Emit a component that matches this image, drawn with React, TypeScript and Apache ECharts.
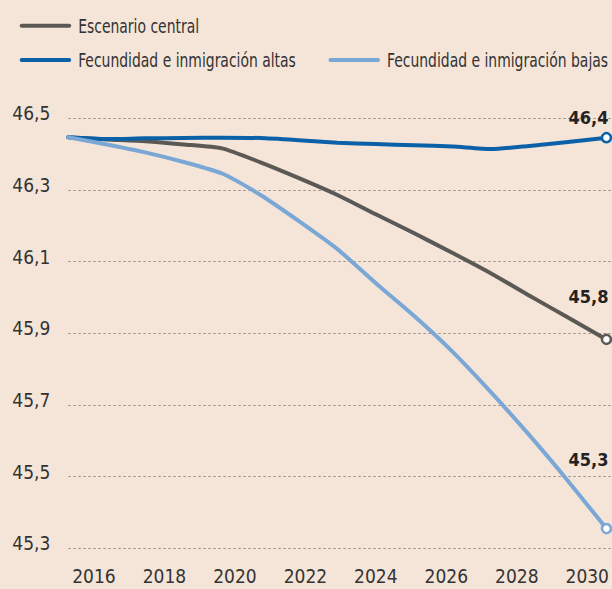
import React, { useEffect, useRef } from "react";
import * as echarts from "echarts";

const FONT = '"DejaVu Sans Condensed", "DejaVu Sans", sans-serif';

const years = [2016, 2017, 2018, 2019, 2020, 2021, 2022, 2023, 2024, 2025, 2026, 2027, 2028, 2029, 2030];
const xTickLabels = [2016, 2018, 2020, 2022, 2024, 2026, 2028, 2030];

const seriesNames = [
  "Escenario central",
  "Fecundidad e inmigración altas",
  "Fecundidad e inmigración bajas",
];

const central = [46.447, 46.441, 46.436, 46.427, 46.416, 46.377, 46.333, 46.286, 46.232, 46.179, 46.124, 46.067, 46.005, 45.944, 45.883];
const altas = [46.447, 46.442, 46.444, 46.445, 46.446, 46.445, 46.439, 46.432, 46.428, 46.425, 46.421, 46.414, 46.423, 46.434, 46.446];
const bajas = [46.447, 46.427, 46.405, 46.378, 46.346, 46.286, 46.213, 46.135, 46.04, 45.948, 45.848, 45.735, 45.615, 45.488, 45.355];

const endLabels = ["45,8", "46,4", "45,3"];

const COLORS = ["#5c5853", "#0b61a7", "#7aa7d6"];
const LABEL_DY = [-43, -20, -69];
const BG = "#f5e5d8";
const TEXT = "#333333";

function makeSeries(idx: number, values: number[]) {
  const color = COLORS[idx];
  const data: any[] = values.map((v, i) => [years[i], v]);
  const last = data.length - 1;
  data[last] = {
    value: data[last],
    symbol: "circle",
    symbolSize: 9,
    itemStyle: { color: "#ffffff", borderColor: color, borderWidth: 2.5 },
    label: {
      show: true,
      formatter: endLabels[idx],
      position: "inside",
      align: "right",
      verticalAlign: "middle",
      offset: [2, LABEL_DY[idx]],
      fontFamily: FONT,
      fontSize: 18,
      fontWeight: "bold",
      color: "#222222",
    },
  };
  return {
    type: "line",
    name: seriesNames[idx],
    xAxisIndex: 0,
    yAxisIndex: 0,
    data,
    symbol: "none",
    smooth: 0.2,
    color,
    itemStyle: { color },
    lineStyle: { width: 4, color, cap: "round", join: "round" },
    emphasis: { disabled: true },
    silent: true,
    clip: false,
    z: 2 + idx,
  };
}

// legend entries drawn as line + horizontally condensed text
function legendEntry(idx: number, x: number, y: number) {
  return {
    type: "group",
    silent: true,
    children: [
      {
        type: "line",
        shape: { x1: x, y1: y, x2: x + 47.5, y2: y },
        style: { stroke: COLORS[idx], lineWidth: 4, lineCap: "round" },
      },
      {
        type: "text",
        x: x + 56.5,
        y,
        scaleX: 0.775,
        style: {
          text: seriesNames[idx],
          x: 0,
          y: 0,
          fontFamily: FONT,
          fontSize: 20,
          fill: TEXT,
          verticalAlign: "middle",
          align: "left",
        },
      },
    ],
  };
}

export default function App() {
  const ref = useRef<HTMLDivElement>(null);

  useEffect(() => {
    if (!ref.current) return;
    const chart = echarts.init(ref.current, null, { renderer: "svg" });
    const option = {
      animation: false,
      backgroundColor: BG,
      textStyle: { fontFamily: FONT },
      graphic: [legendEntry(0, 21.7, 25.7), legendEntry(1, 21.7, 60), legendEntry(2, 330.5, 60)],
      grid: { left: 68.3, right: 0, top: 118.3, bottom: 40.7, containLabel: false },
      xAxis: [
        {
          type: "value",
          position: "top",
          min: 2016,
          max: 2030.138,
          show: false,
        },
        {
          type: "value",
          position: "bottom",
          min: 2015.271,
          max: 2030.695,
          axisLine: { show: false },
          axisTick: { show: false },
          splitLine: { show: false },
          axisLabel: {
            customValues: xTickLabels,
            formatter: (v: number) => String(Math.round(v)),
            fontFamily: FONT,
            fontSize: 19,
            color: TEXT,
            margin: 18,
          },
        },
      ],
      yAxis: {
        type: "value",
        min: 45.3,
        max: 46.5,
        interval: 0.2,
        axisLine: { show: false },
        axisTick: { show: false },
        axisLabel: {
          formatter: (v: number) => v.toFixed(1).replace(".", ","),
          fontFamily: FONT,
          fontSize: 19,
          color: TEXT,
          margin: 18,
          verticalAlign: "bottom",
          lineHeight: 10,
        },
        splitLine: {
          show: true,
          lineStyle: { color: "#9a948f", width: 1.2, type: [2.5, 2.5] },
        },
      },
      series: [makeSeries(0, central), makeSeries(1, altas), makeSeries(2, bajas)],
    };
    chart.setOption(option as any);
    return () => chart.dispose();
  }, []);

  return (
    <div
      ref={ref}
      style={{ position: "fixed", left: 0, top: 0, width: 612, height: 589, background: BG }}
    />
  );
}
